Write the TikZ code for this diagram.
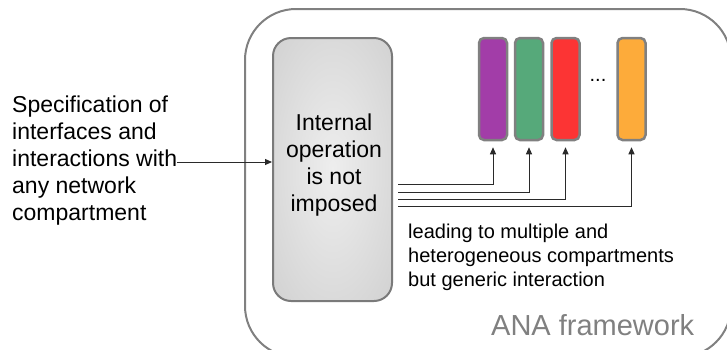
\documentclass[tikz,border=0pt]{standalone}
\usepackage{fontspec}
\setmainfont{Liberation Sans}
\usetikzlibrary{arrows.meta}

\definecolor{framegrey}{HTML}{808080}
\definecolor{boxedge}{HTML}{7A7A7A}
\definecolor{coreinner}{HTML}{EEEEEE}
\definecolor{coreouter}{HTML}{C6C6C6}
\definecolor{corecorner}{HTML}{BDBDBD}
\definecolor{cpurple}{HTML}{A23DA8}
\definecolor{cgreen}{HTML}{56A97A}
\definecolor{cred}{HTML}{FC3434}
\definecolor{corange}{HTML}{FDAB3A}
\definecolor{inkline}{HTML}{2A2A2A}

% soft light centre fading to grey at the sides
\pgfdeclareradialshading{coreshade}{\pgfpointorigin}{%
  color(0bp)=(coreinner); color(50bp)=(coreouter); color(72bp)=(corecorner)}

\tikzset{
  framebox/.style={draw=framegrey, line width=2pt, rounded corners=51pt},
  corebox/.style={draw=boxedge, line width=2pt, rounded corners=18pt,
    shading=coreshade,
    minimum width=119pt, minimum height=263pt, inner sep=0pt},
  compbox/.style={draw=framegrey, line width=2.5pt, rounded corners=5pt,
    minimum width=28pt, minimum height=102pt, inner sep=0pt},
  conn/.style={draw=inkline, line width=1pt, -{Triangle[length=7pt,width=6pt]}},
  bigtxt/.style={inner sep=0pt, font=\fontsize{23}{27}\selectfont},
  midtxt/.style={inner sep=0pt, font=\fontsize{20}{24}\selectfont}
}

\begin{document}
\begin{tikzpicture}[x=1pt,y=-1pt]
\useasboundingbox (0,0) rectangle (727,349);

% outer framework outline, running off the right and bottom edges
\begin{scope}
  \clip (0,0) rectangle (727,349);
  \draw[framebox] (245,9) rectangle (731,357);
\end{scope}
\node[anchor=base west, inner sep=0pt, text=framegrey,
      font=\fontsize{29}{34}\selectfont] (ana) at (491,335) {ANA framework};

% central box
\node[corebox] (core) at (332.5,169.5) {};
\node[bigtxt, align=center, anchor=north] (coretxt) at (334,114)
  {Internal\\operation\\is not\\imposed};

% compartments
\node[compbox, fill=cpurple] (c1) at (493,89) {};
\node[compbox, fill=cgreen]  (c2) at (529,89) {};
\node[compbox, fill=cred]    (c3) at (565.5,89) {};
\node[compbox, fill=corange] (c4) at (631.5,89) {};
\node[midtxt] (dots) at (598,80) {...};

% specification text and its arrow
\node[bigtxt, align=left, anchor=north west] (spec) at (12,96)
  {Specification of\\interfaces and\\interactions with\\any network\\compartment};
\coordinate (specend) at (177,162);
\draw[conn] (specend) -- (core.west |- specend);

% links from the central box to each compartment
\coordinate (s1) at (398,184);
\coordinate (s2) at (398,192);
\coordinate (s3) at (398,199);
\coordinate (s4) at (398,206);
\draw[conn, shorten >=6pt] (s1) -| (c1.south);
\draw[conn, shorten >=6pt] (s2) -| (c2.south);
\draw[conn, shorten >=6pt] (s3) -| (c3.south);
\draw[conn, shorten >=6pt] (s4) -| (c4.south);

\node[midtxt, align=left, anchor=north west] (lead) at (408,223.5)
  {leading to multiple and\\heterogeneous compartments\\but generic interaction};
\end{tikzpicture}
\end{document}
